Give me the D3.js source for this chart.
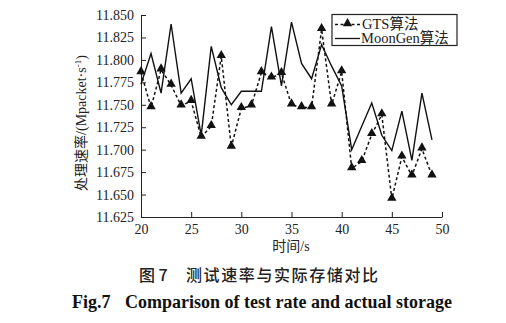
<!DOCTYPE html>
<html>
<head>
<meta charset="utf-8">
<script src="https://cdn.jsdelivr.net/npm/d3@7"></script>
<style>
  html, body { margin: 0; padding: 0; background: #fff; }
  svg { display: block; }
  .serif { font-family: "Liberation Serif", "Times New Roman", serif; }
  .cjk { font-family: "Liberation Serif", "Noto Sans CJK SC", serif; }
</style>
</head>
<body>
<svg id="chart" width="506" height="323"></svg>
<script>
// Time (s) and processing rate (Mpacket/s) for both tools
const seconds = d3.range(20, 50);
const gtsRate = [
  11.786, 11.747, 11.789, 11.772, 11.749, 11.754, 11.714, 11.726, 11.804, 11.703,
  11.746, 11.749, 11.786, 11.780, 11.785, 11.750, 11.747, 11.747, 11.834, 11.750,
  11.787, 11.679, 11.687, 11.717, 11.739, 11.645, 11.692, 11.671, 11.701, 11.671
];
const moonGenRate = [
  11.773, 11.807, 11.763, 11.840, 11.763, 11.779, 11.716, 11.815, 11.769, 11.750,
  11.765, 11.765, 11.765, 11.837, 11.771, 11.842, 11.796, 11.779, 11.817, 11.793,
  11.771, 11.700, 11.726, 11.752, 11.716, 11.699, 11.743, 11.688, 11.763, 11.711
];
const xTicks = [20, 25, 30, 35, 40, 45, 50];
const yTicks = [11.625, 11.650, 11.675, 11.700, 11.725, 11.750, 11.775, 11.800, 11.825, 11.850];
const seriesNames = ["GTS算法", "MoonGen算法"];

const svg = d3.select("#chart");
const plot = { left: 141, right: 442, top: 15, bottom: 217 };

const x = d3.scaleLinear().domain([20, 50]).range([plot.left, plot.right]);
const y = d3.scaleLinear().domain([11.625, 11.850]).range([plot.bottom, plot.top]);

// Axes with inward ticks
const xAxis = d3.axisBottom(x).tickValues(xTicks).tickSizeInner(-5).tickSizeOuter(0).tickPadding(9)
  .tickFormat(d3.format("d"));
const yAxis = d3.axisLeft(y).tickValues(yTicks).tickSizeInner(-5).tickSizeOuter(0).tickPadding(7)
  .tickFormat(d3.format(".3f"));

const gx = svg.append("g").attr("transform", `translate(0,${plot.bottom})`).call(xAxis);
const gy = svg.append("g").attr("transform", `translate(${plot.left},0)`).call(yAxis);
[gx, gy].forEach(g => {
  g.selectAll("path, line").attr("stroke", "#222").attr("stroke-width", 1);
  g.selectAll("text").attr("class", "serif").attr("font-size", 14).attr("fill", "#222");
});
gx.selectAll("text").attr("dy", "0.55em");

// Axis titles
svg.append("text").attr("class", "cjk")
  .attr("x", 291).attr("y", 251).attr("text-anchor", "middle")
  .attr("font-size", 14).attr("fill", "#222").text("时间/s");

const yl = svg.append("text").attr("class", "cjk")
  .attr("transform", "translate(86,123) rotate(-90)")
  .attr("text-anchor", "middle").attr("font-size", 14).attr("fill", "#222");
yl.append("tspan").text("处理速率/(Mpacket·s");
yl.append("tspan").attr("dy", -5).attr("font-size", 9).text("-1");
yl.append("tspan").attr("dy", 5).text(")");

// Series lines
const line = d3.line().x((d, i) => x(seconds[i])).y(d => y(d));

svg.append("path").datum(moonGenRate)
  .attr("d", line).attr("fill", "none")
  .attr("stroke", "#111").attr("stroke-width", 1.4).attr("stroke-linejoin", "miter");

svg.append("path").datum(gtsRate)
  .attr("d", line).attr("fill", "none")
  .attr("stroke", "#111").attr("stroke-width", 1.5).attr("stroke-dasharray", "3,2.5");

const tri = d3.symbol().type(d3.symbolTriangle).size(38);
svg.append("g").selectAll("path").data(gtsRate).join("path")
  .attr("d", tri)
  .attr("transform", (d, i) => `translate(${x(seconds[i])},${y(d) - 1})`)
  .attr("fill", "#111");

// Legend
const lg = svg.append("g");
lg.append("rect").attr("x", 332).attr("y", 14.5).attr("width", 125).attr("height", 31)
  .attr("fill", "#fff").attr("stroke", "#222").attr("stroke-width", 1.2);
lg.append("line").attr("x1", 335).attr("x2", 360).attr("y1", 24.5).attr("y2", 24.5)
  .attr("stroke", "#111").attr("stroke-width", 1.3).attr("stroke-dasharray", "3,2.5");
lg.append("path").attr("d", tri).attr("transform", "translate(347.5,23.5)").attr("fill", "#111");
lg.append("line").attr("x1", 335).attr("x2", 360).attr("y1", 38.5).attr("y2", 38.5)
  .attr("stroke", "#111").attr("stroke-width", 1.3);
lg.append("text").attr("class", "cjk").attr("x", 362).attr("y", 28.5)
  .attr("font-size", 14.5).attr("fill", "#222").text(seriesNames[0]);
lg.append("text").attr("class", "cjk").attr("x", 361).attr("y", 43)
  .attr("font-size", 14.5).attr("fill", "#222").text(seriesNames[1]);

// Figure captions
svg.append("text")
  .attr("y", 281)
  .attr("font-family", "'Noto Sans CJK SC', sans-serif").attr("font-weight", 500)
  .attr("font-size", 16).attr("fill", "#222")
  .selectAll("tspan").data([{ t: "图 7", x: 139, ls: 0 }, { t: "测试速率与实际存储对比", x: 186, ls: 1.6 }])
  .join("tspan").attr("x", d => d.x).attr("letter-spacing", d => d.ls).text(d => d.t);

svg.append("text").attr("class", "serif")
  .attr("y", 308).attr("font-weight", "bold").attr("font-size", 18).attr("fill", "#111")
  .selectAll("tspan").data([{ t: "Fig.7", x: 72 }, { t: "Comparison of test rate and actual storage", x: 125 }])
  .join("tspan").attr("x", d => d.x).text(d => d.t);
</script>
</body>
</html>
